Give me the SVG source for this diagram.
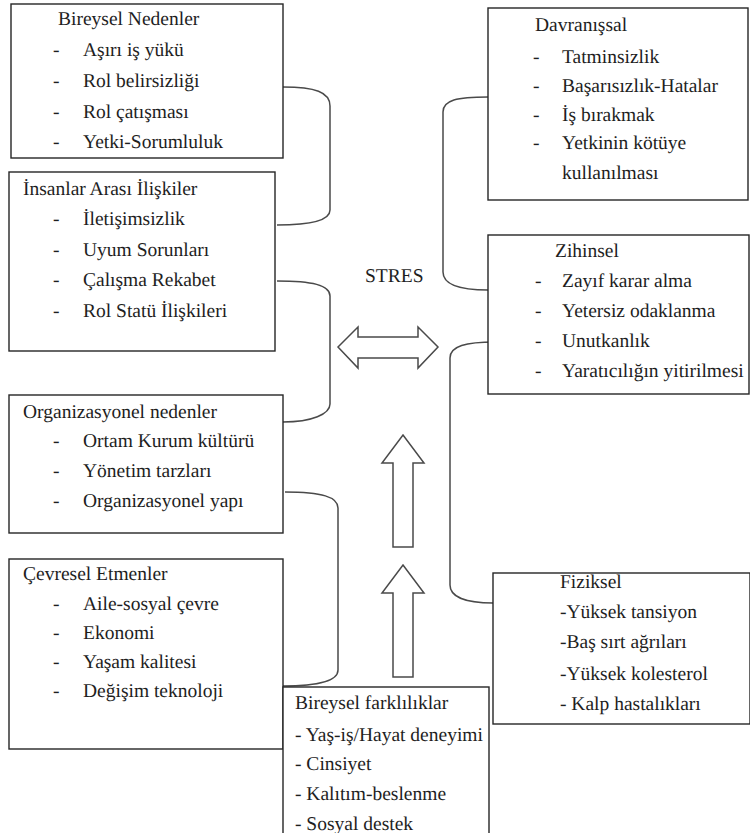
<svg xmlns="http://www.w3.org/2000/svg" width="750" height="838" viewBox="0 0 750 838">
<style>
.box{fill:#fff;stroke:#262626;stroke-width:1.4}
.t text{font-size:19.5px;fill:#1e1e1e;text-rendering:geometricPrecision}
.con{fill:none;stroke:#4a4a4a;stroke-width:1.5}
.arr{fill:#fff;stroke:#4a4a4a;stroke-width:1.5;stroke-linejoin:miter}
</style>
<defs>
<clipPath id="bottomClip"><rect x="0" y="0" width="750" height="833"/></clipPath>
</defs>
<rect width="750" height="838" fill="#fff"/>

<g id="connectors">
<path class="con" d="M283,87 C315,87 330,92 330,106 L330,210 C330,220 312,225 277,225"/>
<path class="con" d="M277,281 C312,281 330,285 330,296 L330,404 C330,414 312,422 283,422"/>
<path class="con" d="M285,492 C322,492 338,497 338,508 L338,670 C338,680 322,686 283,686"/>
<path class="con" d="M488,97 C457,97 443,100 443,112 L443,272 C443,284 457,290 488,290"/>
<path class="con" d="M495,342 C466,342 450,346 450,358 L450,585 C450,597 466,603 493,603"/>
</g>

<g id="arrows">
<path class="arr" d="M338,347 L358,327 L358,337 L418,337 L418,327 L438,347 L418,368 L418,358 L358,358 L358,368 Z"/>
<path class="arr" d="M403,435 L424,463 L413,463 L413,547 L393,547 L393,463 L382,463 Z"/>
<path class="arr" d="M403,565 L424,593 L413,593 L413,677 L393,677 L393,593 L382,593 Z"/>
</g>

<g class="t" font-family="'Liberation Serif', 'DejaVu Serif', serif" clip-path="url(#bottomClip)">
<g id="stres">
<text x="365" y="282">STRES</text>
</g>

<g id="bireysel-nedenler">
<rect class="box" x="11" y="4" width="272" height="154"/>
<text x="58" y="25">Bireysel Nedenler</text>
<text x="53" y="56">-</text><text x="83" y="56">Aşırı iş yükü</text>
<text x="53" y="87">-</text><text x="83" y="87">Rol belirsizliği</text>
<text x="53" y="118">-</text><text x="83" y="118">Rol çatışması</text>
<text x="53" y="148">-</text><text x="83" y="148">Yetki-Sorumluluk</text>
</g>

<g id="insanlar-arasi">
<rect class="box" x="9" y="172" width="266" height="179"/>
<text x="23" y="195">İnsanlar Arası İlişkiler</text>
<text x="53" y="225">-</text><text x="83" y="225">İletişimsizlik</text>
<text x="53" y="256">-</text><text x="83" y="256">Uyum Sorunları</text>
<text x="53" y="286">-</text><text x="83" y="286">Çalışma Rekabet</text>
<text x="53" y="317">-</text><text x="83" y="317">Rol Statü İlişkileri</text>
</g>

<g id="organizasyonel">
<rect class="box" x="9" y="395" width="274" height="138"/>
<text x="23" y="418">Organizasyonel nedenler</text>
<text x="53" y="447">-</text><text x="83" y="447">Ortam Kurum kültürü</text>
<text x="53" y="477">-</text><text x="83" y="477">Yönetim tarzları</text>
<text x="53" y="507">-</text><text x="83" y="507">Organizasyonel yapı</text>
</g>

<g id="cevresel">
<rect class="box" x="9" y="559" width="274" height="190"/>
<text x="23" y="580">Çevresel Etmenler</text>
<text x="53" y="610">-</text><text x="83" y="610">Aile-sosyal çevre</text>
<text x="53" y="639">-</text><text x="83" y="639">Ekonomi</text>
<text x="53" y="668">-</text><text x="83" y="668">Yaşam kalitesi</text>
<text x="53" y="697">-</text><text x="83" y="697">Değişim teknoloji</text>
</g>

<g id="bireysel-farkliliklar">
<rect class="box" x="283" y="687" width="206" height="160"/>
<text x="295" y="709">Bireysel farklılıklar</text>
<text x="295" y="741">- Yaş-iş/Hayat deneyimi</text>
<text x="295" y="770">- Cinsiyet</text>
<text x="295" y="800">- Kalıtım-beslenme</text>
<text x="295" y="830">- Sosyal destek</text>
</g>

<g id="davranissal">
<rect class="box" x="488" y="8" width="260" height="192"/>
<text x="535" y="31">Davranışsal</text>
<text x="533" y="63">-</text><text x="562" y="63">Tatminsizlik</text>
<text x="533" y="92">-</text><text x="562" y="92">Başarısızlık-Hatalar</text>
<text x="533" y="121">-</text><text x="562" y="121">İş bırakmak</text>
<text x="533" y="149">-</text><text x="562" y="149">Yetkinin kötüye</text>
<text x="562" y="179">kullanılması</text>
</g>

<g id="zihinsel">
<rect class="box" x="488" y="235" width="261" height="159"/>
<text x="555" y="257">Zihinsel</text>
<text x="535" y="287">-</text><text x="562" y="287">Zayıf karar alma</text>
<text x="535" y="317">-</text><text x="562" y="317">Yetersiz odaklanma</text>
<text x="535" y="347">-</text><text x="562" y="347">Unutkanlık</text>
<text x="535" y="377">-</text><text x="562" y="377">Yaratıcılığın yitirilmesi</text>
</g>

<g id="fiziksel">
<rect class="box" x="493" y="573" width="257" height="151"/>
<text x="560" y="588">Fiziksel</text>
<text x="560" y="618">-Yüksek tansiyon</text>
<text x="560" y="648">-Baş sırt ağrıları</text>
<text x="560" y="680">-Yüksek kolesterol</text>
<text x="560" y="710">- Kalp hastalıkları</text>
</g>
</g>
</svg>
